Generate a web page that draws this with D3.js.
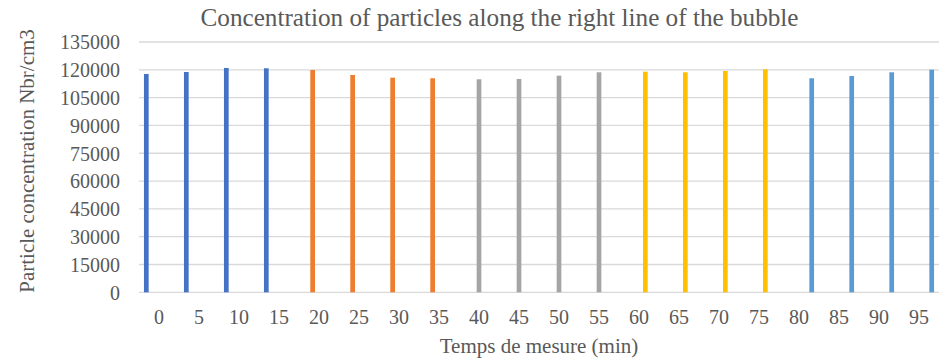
<!DOCTYPE html>
<html>
<head>
<meta charset="utf-8">
<script src="https://cdn.jsdelivr.net/npm/d3@7"></script>
<style>
  html, body { margin: 0; padding: 0; background: #fff; }
  svg { display: block; }
  svg text { font-family: "Liberation Serif", "Times New Roman", Times, "DejaVu Serif", serif; fill: #595959; }
</style>
</head>
<body>
<svg id="chart" width="944" height="363"></svg>
<script>
// Measurement times (minutes)
const times = ["0", "5", "10", "15", "20", "25", "30", "35", "40", "45",
               "50", "55", "60", "65", "70", "75", "80", "85", "90", "95"];
// Particle concentration (Nbr/cm3) at each measurement time
const concentrations = [117750, 118830, 121000, 120830, 119900, 117200, 115760, 115430,
                        114890, 115050, 116830, 118670, 118990, 118670, 119370, 120290,
                        115430, 116670, 118670, 120070];
// Series each measurement belongs to
const seriesNames = ["Series1", "Series2", "Series3", "Series4", "Series5"];
const seriesOfPoint = ["Series1", "Series1", "Series1", "Series1",
                       "Series2", "Series2", "Series2", "Series2",
                       "Series3", "Series3", "Series3", "Series3",
                       "Series4", "Series4", "Series4", "Series4",
                       "Series5", "Series5", "Series5", "Series5"];
const seriesColors = ["#4472C4", "#ED7D31", "#A5A5A5", "#FFC000", "#5B9BD5"];
// Y axis ticks
const yTicks = [0, 15000, 30000, 45000, 60000, 75000, 90000, 105000, 120000, 135000];

const titleText = "Concentration of particles along the right line of the bubble";
const xTitleText = "Temps de mesure (min)";
const yTitleText = "Particle concentration Nbr/cm3";

const svg = d3.select("#chart");
const plot = { left: 139, right: 939, top: 42, bottom: 292.3 };
const serif = '"Liberation Serif", "Times New Roman", Times, "DejaVu Serif", serif';

const rows = times.map((t, i) => ({ time: t, value: concentrations[i], series: seriesOfPoint[i] }));

const x = d3.scaleBand().domain(times).range([plot.left, plot.right]).padding(0);
const xs = d3.scaleBand().domain(seriesNames).range([0, x.bandwidth()])
  .paddingInner(0.26).paddingOuter(0.78);
const y = d3.scaleLinear().domain([0, 135000]).range([plot.bottom, plot.top]);
const color = d3.scaleOrdinal().domain(seriesNames).range(seriesColors);

// Gridlines
svg.append("g")
  .selectAll("line")
  .data(yTicks)
  .join("line")
  .attr("x1", plot.left).attr("x2", plot.right)
  .attr("y1", d => y(d)).attr("y2", d => y(d))
  .attr("stroke", "#D9D9D9").attr("stroke-width", 1.3);

// Bars
svg.append("g")
  .selectAll("rect")
  .data(rows)
  .join("rect")
  .attr("x", d => x(d.time) + xs(d.series))
  .attr("width", xs.bandwidth())
  .attr("y", d => y(d.value))
  .attr("height", d => y(0) - y(d.value))
  .attr("fill", d => color(d.series));

// Y axis labels
const yAxis = svg.append("g")
  .attr("transform", `translate(${plot.left - 19},0)`)
  .call(d3.axisLeft(y).tickValues(yTicks).tickFormat(d3.format("d")).tickSize(0).tickPadding(0))
  .attr("font-family", serif).attr("font-size", 20);
yAxis.select(".domain").remove();
yAxis.selectAll("text")
  .attr("fill", "#595959")
  .attr("dy", "0.34em");

// X axis labels
const xAxis = svg.append("g")
  .attr("transform", `translate(0,${plot.bottom})`)
  .call(d3.axisBottom(x).tickSize(0).tickPadding(0))
  .attr("font-family", serif).attr("font-size", 20);
xAxis.select(".domain").remove();
xAxis.selectAll("text")
  .attr("fill", "#595959")
  .attr("dy", null)
  .attr("y", 32);

// Chart title
svg.append("text")
  .attr("x", 499.5).attr("y", 25.5)
  .attr("text-anchor", "middle")
  .attr("font-family", serif)
  .attr("font-size", 25.2)
  .text(titleText);

// Axis titles
svg.append("text")
  .attr("x", (plot.left + plot.right) / 2).attr("y", 353)
  .attr("text-anchor", "middle")
  .attr("font-family", serif)
  .attr("font-size", 21)
  .text(xTitleText);

svg.append("text")
  .attr("transform", "translate(34,161) rotate(-90)")
  .attr("text-anchor", "middle")
  .attr("font-family", serif)
  .attr("font-size", 21)
  .text(yTitleText);
</script>
</body>
</html>
